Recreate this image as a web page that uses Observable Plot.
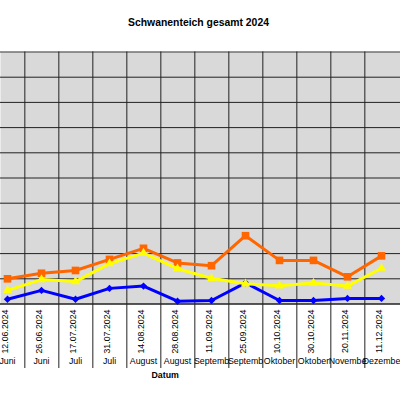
<!DOCTYPE html>
<html>
<head>
<meta charset="utf-8">
<script src="https://cdn.jsdelivr.net/npm/d3@7"></script>
<script src="https://cdn.jsdelivr.net/npm/@observablehq/plot@0.6"></script>
<style>
  html, body { margin: 0; padding: 0; background: #fff; }
  #chart svg { display: block; }
</style>
</head>
<body>
<div id="chart"></div>
<script>
const title = "Schwanenteich gesamt 2024";
const xTitle = "Datum";
const dates = ["12.06.2024","26.06.2024","17.07.2024","31.07.2024","14.08.2024","28.08.2024","11.09.2024","25.09.2024","10.10.2024","30.10.2024","20.11.2024","11.12.2024"];
const months = ["Juni","Juni","Juli","Juli","August","August","September","September","Oktober","Oktober","November","Dezember"];
const orangeValues = [10.0, 12.2, 13.3, 17.7, 22.1, 16.3, 15.2, 27.1, 17.3, 17.3, 10.8, 19.1];
const yellowValues = [5.4, 9.7, 8.9, 16.0, 20.2, 14.0, 10.2, 8.0, 7.2, 8.3, 7.1, 14.2];
const blueValues = [1.9, 5.4, 1.9, 6.2, 7.1, 1.1, 1.4, 8.4, 1.4, 1.4, 2.2, 2.2];
const yTicks = [0, 10, 20, 30, 40, 50, 60, 70, 80, 90, 100];

const rows = (vals) => dates.map((d, i) => ({date: d, value: vals[i]}));
const orange = rows(orangeValues), yellow = rows(yellowValues), blue = rows(blueValues);
const labels = dates.map((d, i) => ({date: d, month: months[i]}));
const step = 34.67;
const fs = 8.8;

const chart = Plot.plot({
  width: 400,
  height: 400,
  marginTop: 51.5,
  marginBottom: 96.5,
  marginLeft: 0,
  marginRight: 0,
  style: {fontFamily: "'Liberation Sans', Arial, sans-serif", background: "#fff"},
  x: {type: "point", domain: dates, range: [7, 388.3], padding: 0, align: 0, axis: null},
  y: {domain: [0, 100], axis: null},
  marks: [
    Plot.frame({fill: "#d9d9d9"}),
    Plot.ruleY(yTicks, {y: d => d, stroke: "#222", strokeWidth: 1}),
    Plot.ruleY([100], {stroke: "#999", strokeWidth: 1}),
    Plot.ruleX(dates.slice(0, -1), {x: d => d, dx: step / 2, stroke: "#222", strokeWidth: 1, insetBottom: -64.5}),
    Plot.ruleY([0], {stroke: "#222", strokeWidth: 1}),
    Plot.line(blue, {x: "date", y: "value", stroke: "#0000ff", strokeWidth: 3}),
    Plot.dot(blue, {x: "date", y: "value", symbol: "diamond2", r: 3.3, fill: "#0000ff", stroke: "none"}),
    Plot.line(orange, {x: "date", y: "value", stroke: "#ff6600", strokeWidth: 3}),
    Plot.dot(orange, {x: "date", y: "value", symbol: "square", r: 4.3, fill: "#ff6600", stroke: "none"}),
    Plot.line(yellow, {x: "date", y: "value", stroke: "#ffff00", strokeWidth: 3}),
    Plot.dot(yellow, {x: "date", y: "value", symbol: "triangle", r: 3.4, fill: "#ffff00", stroke: "none"}),
    Plot.text(labels, {x: "date", text: "date", frameAnchor: "bottom", dy: 5.5, rotate: -90, textAnchor: "end", fontSize: fs, fill: "#000"}),
    Plot.text(labels, {x: "date", text: "month", frameAnchor: "bottom", dy: 59.5, fontSize: fs, fill: "#000", lineWidth: 4.6, textOverflow: "clip"}),
    Plot.text([xTitle], {frameAnchor: "bottom", dx: -35.3, dy: 73.5, fontSize: fs, fontWeight: "bold", fill: "#000"}),
    Plot.text([title], {frameAnchor: "top", dx: -2, dy: -33.5, fontSize: 10.4, fontWeight: "bold", fill: "#000"})
  ]
});
document.getElementById("chart").append(chart);
</script>
</body>
</html>
